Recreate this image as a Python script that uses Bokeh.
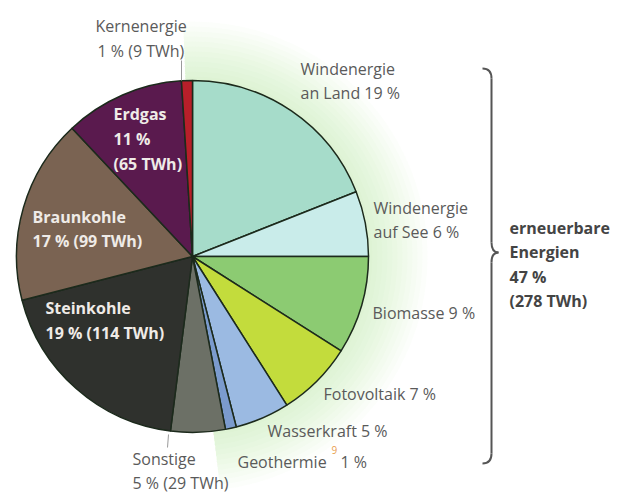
import numpy as np
from bokeh.plotting import figure
from bokeh.models import Range1d
from bokeh.embed import file_html
from bokeh.resources import INLINE
from bokeh.core.properties import value

# ---- data ----
sources = ["Windenergie an Land", "Windenergie auf See", "Biomasse", "Fotovoltaik",
           "Wasserkraft", "Geothermie", "Sonstige", "Steinkohle", "Braunkohle",
           "Erdgas", "Kernenergie"]
shares = [19, 6, 9, 7, 5, 1, 5, 19, 17, 11, 1]
twh = [None, None, None, None, None, None, 29, 114, 99, 65, 9]
renewable_share = 47
renewable_twh = 278
colors = ["#a6dcca", "#c9ecea", "#8ccb72", "#c3dc3c", "#9bbae2", "#7b9bcd",
          "#6c7066", "#2f312d", "#7a6352", "#5a1a4e", "#b81f2a"]

W, H = 633, 492
FONT = value("Open Sans")


def Y(sy):
    return H - sy


p = figure(width=W, height=H, x_range=Range1d(0, W), y_range=Range1d(0, H),
           output_backend="svg", toolbar_location=None, min_border=0,
           x_axis_location=None, y_axis_location=None)
p.grid.visible = False
p.outline_line_color = None
p.background_fill_color = "white"

cx, cy, r = 192, Y(256), 176
frac = np.array(shares, dtype=float) / sum(shares)
cum = np.concatenate([[0.0], np.cumsum(frac)])
start = np.pi / 2 - 2 * np.pi * cum[1:]
end = np.pi / 2 - 2 * np.pi * cum[:-1]

# soft green glow behind renewable sector
ren_frac = renewable_share / 100.0
for k in range(12):
    p.wedge(x=cx, y=cy, radius=r + 4 + 5 * k,
            start_angle=np.pi / 2 - 2 * np.pi * ren_frac - 0.07,
            end_angle=np.pi / 2 + 0.04,
            fill_color="#b5e3a3", fill_alpha=0.04, line_color=None)

p.wedge(x=cx, y=cy, radius=r, start_angle=start, end_angle=end,
        fill_color=colors, line_color="#1c2a1c", line_width=1.5)


def t(x, sy, text, color="#5a5a5a", bold=False, size="16px"):
    p.text(x=[x], y=[Y(sy)], text=[text], text_font=FONT, text_font_size=size,
           text_color=color, text_align="left", text_baseline="middle",
           text_font_style="bold" if bold else "normal")


white = "#efebe7"

# outside labels
t(95, 25, "Kernenergie")
t(97, 50, f"{shares[10]} % ({twh[10]} TWh)")
t(300, 68, "Windenergie")
t(300, 92, f"an Land {shares[0]} %")
t(373, 207, "Windenergie")
t(373, 231, f"auf See {shares[1]} %")
t(372, 312, f"Biomasse {shares[2]} %")
t(323, 393, f"Fotovoltaik {shares[3]} %")
t(267, 430, f"Wasserkraft {shares[4]} %")
t(237, 461, "Geothermie")
t(331, 449, "9", color="#e8a050", size="10px")
t(340, 461, f"{shares[5]} %")
t(132, 458, "Sonstige")
t(132, 482, f"{shares[6]} % ({twh[6]} TWh)")

# inside labels
t(113, 113, "Erdgas", color=white, bold=True)
t(113, 138, f"{shares[9]} %", color=white, bold=True)
t(113, 163, f"({twh[9]} TWh)", color=white, bold=True)
t(32, 216, "Braunkohle", color=white, bold=True)
t(32, 240, f"{shares[8]} % ({twh[8]} TWh)", color=white, bold=True)
t(45, 307, "Steinkohle", color=white, bold=True)
t(45, 332, f"{shares[7]} % ({twh[7]} TWh)", color=white, bold=True)

# renewable summary
t(509, 227, "erneuerbare", color="#444444", bold=True)
t(509, 251, "Energien", color="#444444", bold=True)
t(509, 276, f"{renewable_share} %", color="#444444", bold=True)
t(509, 300, f"({renewable_twh} TWh)", color="#444444", bold=True)

# leader lines
p.line([181, 181], [Y(60), Y(80)], line_color="#9a9a9a", line_width=1)
p.line([168, 167], [Y(434), Y(447)], line_color="#9a9a9a", line_width=1)

# brace
bc = "#555555"
p.bezier(x0=[482, 491, 498, 491], y0=[Y(68), Y(242), Y(252), Y(453)],
         x1=[491, 498, 491, 482], y1=[Y(78), Y(252), Y(262), Y(463)],
         cx0=[489, 491, 494, 491], cy0=[Y(68), Y(249), Y(252), Y(459)],
         cx1=[491, 494, 491, 489], cy1=[Y(72), Y(252), Y(255), Y(463)],
         line_color=bc, line_width=2)
p.segment(x0=[491, 491], y0=[Y(78), Y(262)], x1=[491, 491], y1=[Y(242), Y(453)],
          line_color=bc, line_width=2)

open("out.html", "w").write(file_html(p, INLINE))
